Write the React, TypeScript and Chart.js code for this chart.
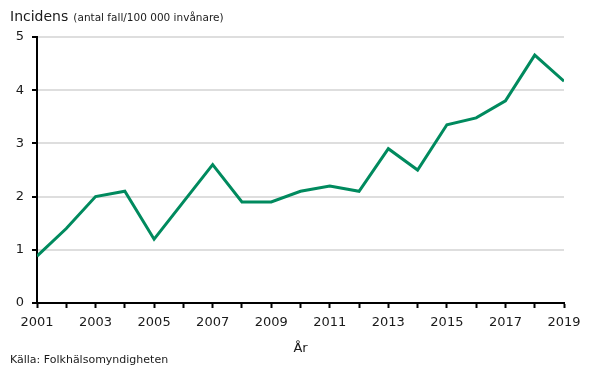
import React, { useEffect, useRef } from "react";
import { Chart, registerables } from "chart.js";

Chart.register(...registerables);

const years = [2001, 2002, 2003, 2004, 2005, 2006, 2007, 2008, 2009, 2010, 2011, 2012, 2013, 2014, 2015, 2016, 2017, 2018, 2019];
const incidence = [0.88, 1.4, 2.0, 2.1, 1.2, 1.9, 2.6, 1.9, 1.9, 2.1, 2.2, 2.1, 2.9, 2.5, 3.35, 3.48, 3.8, 4.66, 4.17];
const yTicks = [0, 1, 2, 3, 4, 5];
const titleMain = "Incidens";
const titleSub = "(antal fall/100 000 invånare)";
const xTitle = "År";
const source = "Källa: Folkhälsomyndigheten";

const FONT = "'DejaVu Sans', Verdana, sans-serif";
const GREEN = "#008A5E";
const TEXT = "#1a1a1a";

export default function App() {
  const ref = useRef<HTMLCanvasElement | null>(null);

  useEffect(() => {
    if (!ref.current) return;
    const chart = new Chart(ref.current, {
      type: "line",
      data: {
        datasets: [
          {
            data: years.map((y, i) => ({ x: y, y: incidence[i] })),
            borderColor: GREEN,
            borderWidth: 3,
            pointRadius: 0,
            tension: 0,
            fill: false,
          },
        ],
      },
      options: {
        animation: false,
        responsive: false,
        maintainAspectRatio: false,
        layout: { padding: { top: 37, right: 26, left: 0, bottom: 0 } },
        plugins: { legend: { display: false }, tooltip: { enabled: false }, title: { display: false } },
        scales: {
          x: {
            type: "linear",
            min: years[0],
            max: years[years.length - 1],
            afterFit: (s: any) => {
              s.height = 66;
            },
            afterBuildTicks: (s: any) => {
              s.ticks = years.map((v) => ({ value: v }));
            },
            ticks: {
              autoSkip: false,
              maxRotation: 0,
              padding: 7,
              color: TEXT,
              font: { family: FONT, size: 13 },
              callback: (v: any) => (Number(v) % 2 === 1 ? String(v) : ""),
            },
            grid: {
              drawOnChartArea: false,
              drawTicks: true,
              tickLength: 5,
              tickColor: "#000",
              tickWidth: 2,
            },
            border: { display: true, color: "#000", width: 2 },
            title: {
              display: true,
              text: xTitle,
              color: TEXT,
              font: { family: FONT, size: 13 },
              padding: { top: 0, bottom: 13 },
            },
          },
          y: {
            min: 0,
            max: 5,
            afterFit: (s: any) => {
              s.width = 37;
            },
            afterBuildTicks: (s: any) => {
              s.ticks = yTicks.map((v) => ({ value: v }));
            },
            ticks: {
              padding: 8,
              color: TEXT,
              font: { family: FONT, size: 13 },
            },
            grid: {
              color: (c: any) => (c.tick && c.tick.value === 0 ? "rgba(0,0,0,0)" : "#dedede"),
              lineWidth: 2,
              drawTicks: true,
              tickLength: 5,
              tickColor: "#000",
              tickWidth: 2,
            },
            border: { display: true, color: "#000", width: 2 },
          },
        },
      },
    });
    return () => chart.destroy();
  }, []);

  return (
    <div style={{ position: "fixed", left: 0, top: 0, width: 590, height: 369, background: "#fff" }}>
      <canvas ref={ref} width={590} height={369} style={{ position: "absolute", left: 0, top: 0 }} />
      <div
        style={{
          position: "absolute",
          left: 10,
          top: 6,
          fontFamily: FONT,
          color: TEXT,
          whiteSpace: "nowrap",
          lineHeight: "20px",
        }}
      >
        <span style={{ fontSize: 14 }}>{titleMain}</span>{" "}
        <span style={{ fontSize: 10.5 }}>{titleSub}</span>
      </div>
      <div
        style={{
          position: "absolute",
          left: 10,
          top: 352,
          fontFamily: FONT,
          fontSize: 11,
          color: TEXT,
          whiteSpace: "nowrap",
          lineHeight: "16px",
        }}
      >
        {source}
      </div>
    </div>
  );
}
